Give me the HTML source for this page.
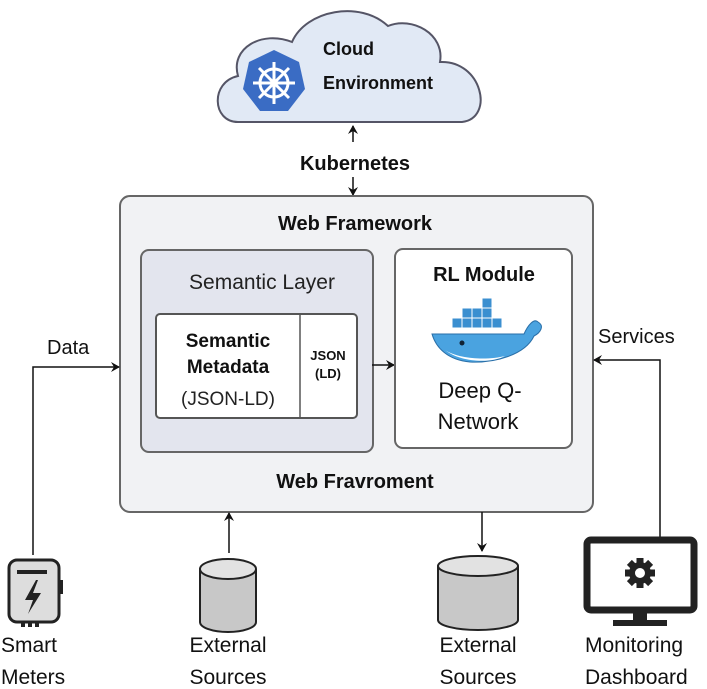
<!DOCTYPE html>
<html><head><meta charset="utf-8"><style>
html,body{margin:0;padding:0;background:#fff;}
svg{display:block;font-family:"Liberation Sans",sans-serif;}
</style></head><body>
<svg width="707" height="689" viewBox="0 0 707 689" xmlns="http://www.w3.org/2000/svg">
<defs>
<marker id="ah" markerWidth="10" markerHeight="10" refX="8" refY="5" orient="auto" markerUnits="userSpaceOnUse">
<path d="M0,0 L9,5 L0,10 L3,5 Z" fill="#111"/></marker>
</defs>
<path d="M238,122 C212,122 210,82 238,76 C230,48 262,30 292,42 C306,10 360,0 388,26 C412,16 445,34 440,62 C482,60 495,118 462,122 Z" fill="#e1e9f5" stroke="#556" stroke-width="2"/>
<polygon points="274,50 299,62 305,89 288,111 260,111 243,89 249,62" fill="#3a6cc4"/>
<g stroke="#fff" stroke-width="3" fill="none">
<circle cx="274" cy="83" r="14"/>
<line x1="274" y1="62" x2="274" y2="104"/><line x1="253" y1="83" x2="295" y2="83"/>
<line x1="259" y1="68" x2="289" y2="98"/><line x1="289" y1="68" x2="259" y2="98"/>
</g>
<circle cx="274" cy="83" r="4" fill="#fff"/>
<text x="323" y="55" font-size="18" font-weight="bold" fill="#111">Cloud</text>
<text x="323" y="89" font-size="18" font-weight="bold" fill="#111">Environment</text>
<line x1="353" y1="142" x2="353" y2="126" stroke="#111" stroke-width="1.5" marker-end="url(#ah)"/>
<text x="355" y="170" font-size="20" font-weight="bold" text-anchor="middle" fill="#111">Kubernetes</text>
<line x1="353" y1="177" x2="353" y2="195" stroke="#111" stroke-width="1.5" marker-end="url(#ah)"/>
<rect x="120" y="196" width="473" height="316" rx="10" fill="#f1f2f4" stroke="#666" stroke-width="2"/>
<text x="355" y="230" font-size="20" font-weight="bold" text-anchor="middle" fill="#111">Web Framework</text>
<rect x="141" y="250" width="232" height="202" rx="8" fill="#e3e5ee" stroke="#666" stroke-width="2"/>
<text x="262" y="289" font-size="21" text-anchor="middle" fill="#222">Semantic Layer</text>
<rect x="156" y="314" width="201" height="104" rx="4" fill="#fff" stroke="#555" stroke-width="2"/>
<line x1="300" y1="314" x2="300" y2="418" stroke="#555" stroke-width="1.5"/>
<text x="228" y="347" font-size="19" font-weight="bold" text-anchor="middle" fill="#111">Semantic</text>
<text x="228" y="373" font-size="19" font-weight="bold" text-anchor="middle" fill="#111">Metadata</text>
<text x="228" y="405" font-size="19" text-anchor="middle" fill="#222">(JSON-LD)</text>
<text x="328" y="360" font-size="13" font-weight="bold" text-anchor="middle" fill="#111">JSON</text>
<text x="328" y="378" font-size="13" font-weight="bold" text-anchor="middle" fill="#111">(LD)</text>
<line x1="372" y1="365" x2="394" y2="365" stroke="#111" stroke-width="1.5" marker-end="url(#ah)"/>
<rect x="395" y="249" width="177" height="199" rx="8" fill="#fff" stroke="#666" stroke-width="2"/>
<text x="484" y="281" font-size="20" font-weight="bold" text-anchor="middle" fill="#111">RL Module</text>
<g fill="#3b8fd0" stroke="#fff" stroke-width="1">
<rect x="482" y="298" width="10" height="10"/>
<rect x="462" y="308" width="10" height="10"/><rect x="472" y="308" width="10" height="10"/><rect x="482" y="308" width="10" height="10"/>
<rect x="452" y="318" width="10" height="10"/><rect x="462" y="318" width="10" height="10"/><rect x="472" y="318" width="10" height="10"/><rect x="482" y="318" width="10" height="10"/><rect x="492" y="318" width="10" height="10"/>
</g>
<path d="M432,334 L524,334 C528,325 534,318 538,322 C545,326 540,333 534,336 C525,355 495,363 470,362 C448,360 436,348 432,334 Z" fill="#4aa3e0" stroke="#2a6fa8" stroke-width="1"/>
<path d="M445,350 C460,362 490,364 505,356 C490,360 460,360 445,350 Z" fill="#fff"/>
<circle cx="462" cy="343" r="2.5" fill="#123"/>
<text x="480" y="398" font-size="22" text-anchor="middle" fill="#111">Deep Q-</text>
<text x="478" y="429" font-size="22" text-anchor="middle" fill="#111">Network</text>
<text x="355" y="488" font-size="20" font-weight="bold" text-anchor="middle" fill="#111">Web Fravroment</text>
<text x="47" y="354" font-size="20" fill="#111">Data</text>
<polyline points="33,555 33,367 119,367" fill="none" stroke="#111" stroke-width="1.5" marker-end="url(#ah)"/>
<text x="598" y="343" font-size="20" fill="#111">Services</text>
<polyline points="660,537 660,360 594,360" fill="none" stroke="#111" stroke-width="1.5" marker-end="url(#ah)"/>
<rect x="9" y="560" width="50" height="62" rx="8" fill="#ddd" stroke="#222" stroke-width="3"/>
<rect x="59" y="580" width="4" height="14" fill="#222"/>
<rect x="17" y="570" width="30" height="4" fill="#222"/>
<path d="M36,580 L25,600 L33,600 L28,614 L41,593 L33,593 L38,580 Z" fill="#222"/>
<rect x="21" y="622" width="4" height="5" fill="#222"/><rect x="28" y="622" width="4" height="5" fill="#222"/><rect x="35" y="622" width="4" height="5" fill="#222"/>
<text x="1" y="652" font-size="21" fill="#111">Smart</text>
<text x="1" y="684" font-size="21" fill="#111">Meters</text>
<line x1="229" y1="553" x2="229" y2="513" stroke="#111" stroke-width="1.5" marker-end="url(#ah)"/>
<path d="M200,569 L200,622 A28,10 0 0 0 256,622 L256,569" fill="#c8c8c8" stroke="#222" stroke-width="2"/>
<ellipse cx="228" cy="569" rx="28" ry="10" fill="#e2e2e2" stroke="#222" stroke-width="2"/>
<text x="228" y="652" font-size="21" text-anchor="middle" fill="#111">External</text>
<text x="228" y="684" font-size="21" text-anchor="middle" fill="#111">Sources</text>
<line x1="482" y1="512" x2="482" y2="551" stroke="#111" stroke-width="1.5" marker-end="url(#ah)"/>
<path d="M438,566 L438,620 A40,10 0 0 0 518,620 L518,566" fill="#c8c8c8" stroke="#222" stroke-width="2"/>
<ellipse cx="478" cy="566" rx="40" ry="10" fill="#e2e2e2" stroke="#222" stroke-width="2"/>
<text x="478" y="652" font-size="21" text-anchor="middle" fill="#111">External</text>
<text x="478" y="684" font-size="21" text-anchor="middle" fill="#111">Sources</text>
<rect x="587" y="540" width="107" height="70" rx="4" fill="#fff" stroke="#222" stroke-width="7"/>
<rect x="633" y="610" width="14" height="12" fill="#222"/>
<rect x="613" y="620" width="54" height="6" fill="#222"/>
<g transform="translate(640,573)">
<g fill="#222">
<rect x="-3.5" y="-15" width="7" height="30"/>
<rect x="-3.5" y="-15" width="7" height="30" transform="rotate(45)"/>
<rect x="-3.5" y="-15" width="7" height="30" transform="rotate(90)"/>
<rect x="-3.5" y="-15" width="7" height="30" transform="rotate(135)"/>
<circle r="11"/></g>
<circle r="5" fill="#fff"/>
</g>
<text x="585" y="652" font-size="21" fill="#111">Monitoring</text>
<text x="585" y="684" font-size="21" fill="#111">Dashboard</text>
</svg>
</body></html>
